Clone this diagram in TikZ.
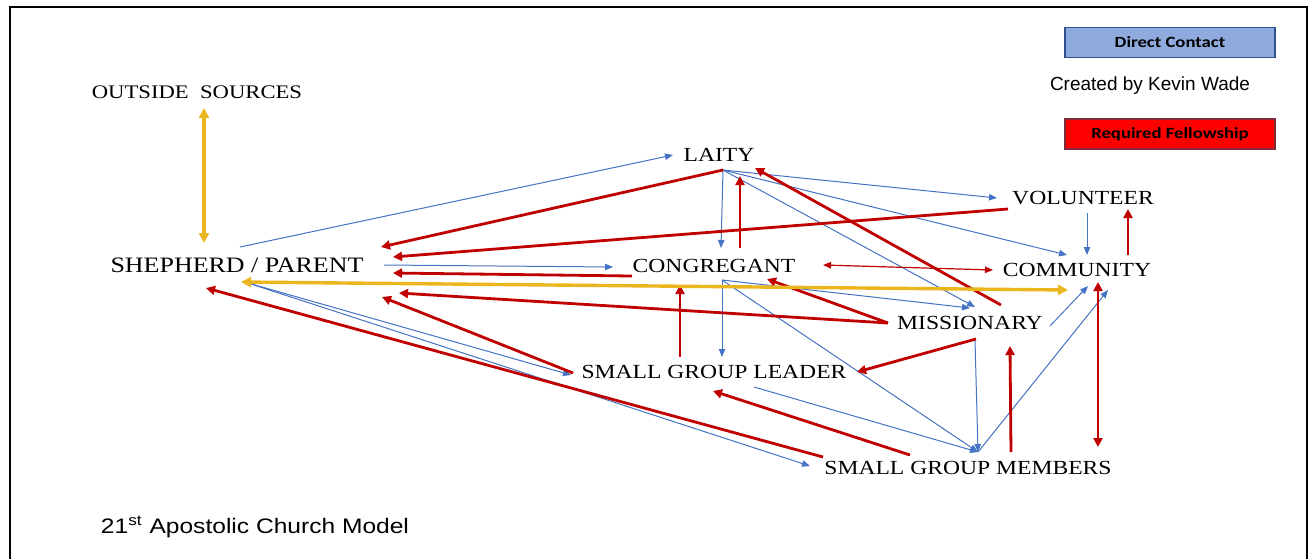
\documentclass[tikz,border=0pt]{standalone}
\usepackage{fontspec}
\usepackage{xcolor}
\usetikzlibrary{arrows.meta}
\newfontfamily\lblfont[FakeStretch=1.18]{Liberation Serif}
\newfontfamily\notefont{Liberation Sans}
\newfontfamily\titlefont[FakeStretch=1.17]{Liberation Sans}
\newfontfamily\keyfont[FakeStretch=1.2]{Carlito}
\definecolor{contactblue}{HTML}{4472C4}
\definecolor{fellowred}{HTML}{C00000}
\definecolor{sourcegold}{HTML}{EBB51E}
\definecolor{keyblue}{HTML}{8FAADC}
\definecolor{keyedge}{HTML}{2F528F}
\definecolor{keyred}{HTML}{FF0000}
\definecolor{keyrededge}{HTML}{7F2A3A}

\begin{document}
\begin{tikzpicture}[x=0.5pt,y=-0.5pt,
    lbl/.style={inner sep=0pt, font=\lblfont\fontsize{10}{12}\selectfont},
    keybox/.style={line width=0.75pt, minimum width=105pt, minimum height=15pt, inner sep=0pt,
      font=\keyfont\bfseries\fontsize{7.8}{9}\selectfont},
    contact/.style={-{Triangle[length=4pt,width=3.2pt]}, contactblue, line width=0.5pt},
    fellowship/.style={-{Triangle[length=4.5pt,width=4.5pt]}, fellowred, line width=1.4pt},
    source/.style={{Triangle[length=5pt,width=5pt]}-{Triangle[length=5pt,width=5pt]}, sourcegold, line width=1.7pt}]
      \useasboundingbox (0,0) rectangle (1308,559);
      \draw[line width=1pt] (9.5,559) -- (9.5,7) -- (1306.5,7) -- (1306.5,559);

      \node[lbl, font=\lblfont\fontsize{9.6}{11}\selectfont] (os) at (197,92) {OUTSIDE\ \ SOURCES};
      \node[lbl, font=\lblfont\fontsize{11}{13}\selectfont] (sp) at (237,265) {SHEPHERD / PARENT};
      \node[lbl] (la) at (719,155) {LAITY};
      \node[lbl] (co) at (714,266) {CONGREGANT};
      \node[lbl] (vo) at (1083,198) {VOLUNTEER};
      \node[lbl] (cm) at (1077,270) {COMMUNITY};
      \node[lbl] (mi) at (970,323) {MISSIONARY};
      \node[lbl] (sgl) at (714,372) {SMALL GROUP LEADER};
      \node[lbl] (sgm) at (968,468) {SMALL GROUP MEMBERS};

      \node[keybox, draw=keyedge, fill=keyblue] (dc) at (1170,42.3) {Direct Contact};
      \node[font=\notefont\fontsize{9.5}{11}\selectfont, inner sep=0pt] (kw) at (1150,86) {Created by Kevin Wade};
      \node[keybox, draw=keyrededge, fill=keyred] (rf) at (1170,133.8) {Required Fellowship};
      \node[font=\titlefont\fontsize{10.5}{12}\selectfont, inner sep=0pt] (ttl) at (255,527) {21\textsuperscript{st} Apostolic Church Model};

      \foreach \a/\p/\b/\q in {sp/{3,-18}/la/{-46,0}, sp/{147,0}/co/{-101,1}, sp/{11,18}/sgl/{-143,3},
          sp/{11,18}/sgm/{-158,-2}, la/{4,15}/co/{7,-18}, la/{4,15}/vo/{-86,0}, la/{4,15}/cm/{-10,-15},
          la/{4,15}/mi/{5,-16}, co/{8,14}/sgl/{8,-15}, co/{8,14}/mi/{0,-15}, co/{8,14}/sgm/{10,-16},
          vo/{4,15}/cm/{10,-15}, mi/{80,3}/cm/{11,16}, sgm/{10,-16}/cm/{31,20}, sgl/{40,15}/sgm/{10,-16},
          mi/{5,17}/sgm/{10,-16}}
        {
          \draw[contact] ([shift={(\p)}]\a.center) -- ([shift={(\q)}]\b.center);
        }
      \foreach \a/\p/\b/\q in {la/{4,15}/sp/{144,-18}, vo/{-75,11}/sp/{156,-8}, co/{-82,10}/sp/{156,8},
          mi/{-82,0}/sp/{162,28}, sgl/{-141,1}/sp/{145,32}, sgm/{-145,-11}/sp/{-31,23},
          co/{26,-18}/la/{21,21}, mi/{31,-18}/la/{36,13}, mi/{-82,0}/co/{53,13}, mi/{6,16}/sgl/{143,0},
          sgl/{-34,-15}/co/{-34,19}, sgm/{-58,-13}/sgl/{-1,19}, sgm/{43,-16}/mi/{40,23}, cm/{51,-15}/vo/{45,11}}
        {
          \draw[fellowship] ([shift={(\p)}]\a.center) -- ([shift={(\q)}]\b.center);
        }
      \draw[fellowship, {Triangle[length=4.5pt,width=4.5pt]}-{Triangle[length=4.5pt,width=4.5pt]}]
        ([shift={(21,12)}]cm.center) -- ([shift={(130,-21)}]sgm.center);
      \draw[fellowred, line width=0.6pt, {Triangle[length=4pt,width=3.2pt]}-{Triangle[length=4pt,width=3.2pt]}]
        ([shift={(109,-1)}]co.center) -- ([shift={(-84,0)}]cm.center);
      \draw[source] ([shift={(7,16)}]os.center) -- ([shift={(-33,-22)}]sp.center);
      \draw[source] ([shift={(4,17)}]sp.center) -- ([shift={(-9,20)}]cm.center);
    \end{tikzpicture}
\end{document}
